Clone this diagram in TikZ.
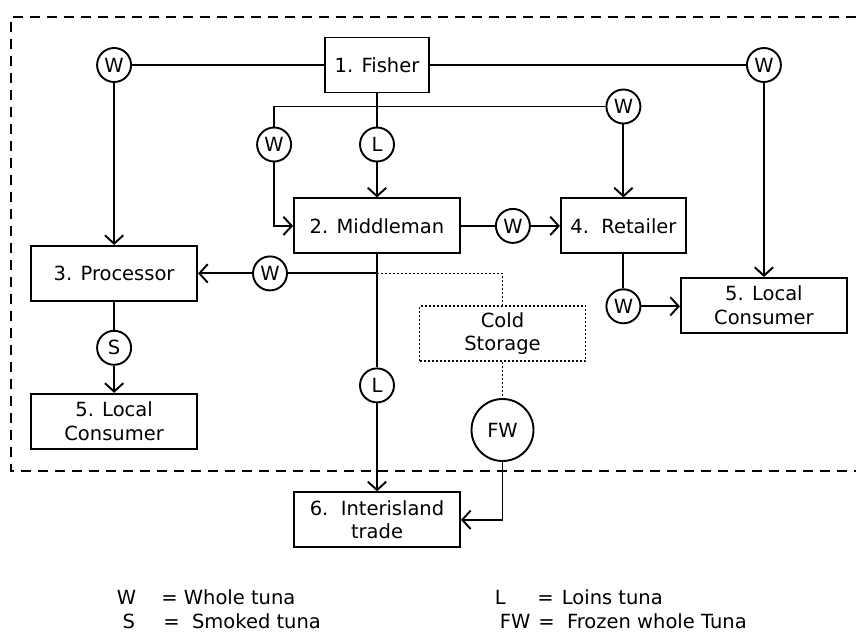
\documentclass[tikz,border=0pt]{standalone}
\usepackage{fontspec}
\setmainfont{DejaVu Sans}
\usetikzlibrary{arrows.meta,positioning}

\begin{document}
\begin{tikzpicture}[
    x=0.5pt, y=-0.5pt,
    >={Straight Barb[length=4.2pt,width=9.2pt]},
    font=\fontsize{9.75pt}{11.75pt}\selectfont,
    line width=0.95pt,
    box/.style={draw, minimum width=83pt, minimum height=27.5pt, align=center, inner sep=1pt},
    flow/.style={draw, circle, minimum size=17pt, inner sep=0pt},
    dots/.style={dash pattern=on 1pt off 1pt, line width=0.85pt},
    frame/.style={dash pattern=on 5pt off 3.5pt, line width=0.95pt},
    key/.style={anchor=base west, inner sep=0pt},
]
\useasboundingbox (0,0) rectangle (856,632);

% local market boundary
\draw[frame] (856,17) -| (11,471) -- (856,471);

% fisher
\node[box, minimum width=52pt] (fisher) at (377,65) {1. Fisher};
\node[flow, left=96pt of fisher] (wFL) {W};
\node[flow, right=158pt of fisher] (wFR) {W};

% middleman and retailer
\node[box, below=52pt of fisher] (middleman) {2. Middleman};
\node[flow, above=17.5pt of middleman] (lTop) {L};
\node[flow, left=33.5pt of lTop] (wMid) {W};
\node[box, minimum width=62.5pt, right=49.5pt of middleman] (retailer) {4.\ \ Retailer};
\node[flow, above=36.5pt of retailer] (wTop) {W};
\node[flow, right=17pt of middleman] (wMR) {W};

% processor and consumers
\node[box, below=81pt of wFL] (processor) {3. Processor};
\node[flow, right=27pt of processor] (wPM) {W};
\node[flow, below=14pt of processor] (sPC) {S};
\node[box, below=45.5pt of processor] (consumerL) {5. Local\\Consumer};
\node[flow, below=17pt of retailer] (wRC) {W};
\node[box, below=97pt of wFR] (consumerR) {5. Local\\Consumer};

% storage and interisland trade
\node[box, dots, below=25.5pt of middleman, xshift=62.75pt] (storage) {Cold\\Storage};
\node[flow, minimum size=31pt, below=18pt of storage] (fw) {FW};
\node[box, below=118.5pt of middleman] (trade) {6.\ \ Interisland\\trade};
\node[flow, above=44pt of trade] (lMT) {L};
\coordinate (split) at (middleman.south |- wPM);

\draw (fisher) -- (wFL);
\draw[->] (wFL) -- (processor);
\draw (fisher) -- (wFR);
\draw[->] (wFR) -- (consumerR);
\draw (fisher) -- (lTop);
\draw[->] (lTop) -- (middleman);
\draw (wMid) |- (wTop);
\draw[->] (wMid) |- (middleman);
\draw[->] (wTop) -- (retailer);
\draw (middleman) -- (wMR);
\draw[->] (wMR) -- (retailer);
\draw (retailer) -- (wRC);
\draw[->] (wRC) -- (wRC -| consumerR.west);

\draw (middleman) -- (lMT);
\draw[->] (lMT) -- (trade);
\draw (split) -- (wPM);
\draw[->] (wPM) -- (processor);
\draw (processor) -- (sPC);
\draw[->] (sPC) -- (consumerL);
\draw[dots] (split) -| (storage);
\draw[dots] (storage) -- (fw);
\draw[->] (fw) |- (trade);

% legend
\node[key] (keyW) at (116,604) {\makebox[22.2pt][l]{W}= Whole tuna};
\node[key] (keyS) at (121.7,628) {\makebox[20.35pt][l]{S}=\ \ Smoked tuna};
\node[key] (keyL) at (494,604) {\makebox[21.2pt][l]{L}= \hspace{1pt}Loins tuna};
\node[key] (keyFW) at (499,628) {\makebox[19.2pt][l]{FW}=\ \ Frozen whole Tuna};

\end{tikzpicture}
\end{document}
